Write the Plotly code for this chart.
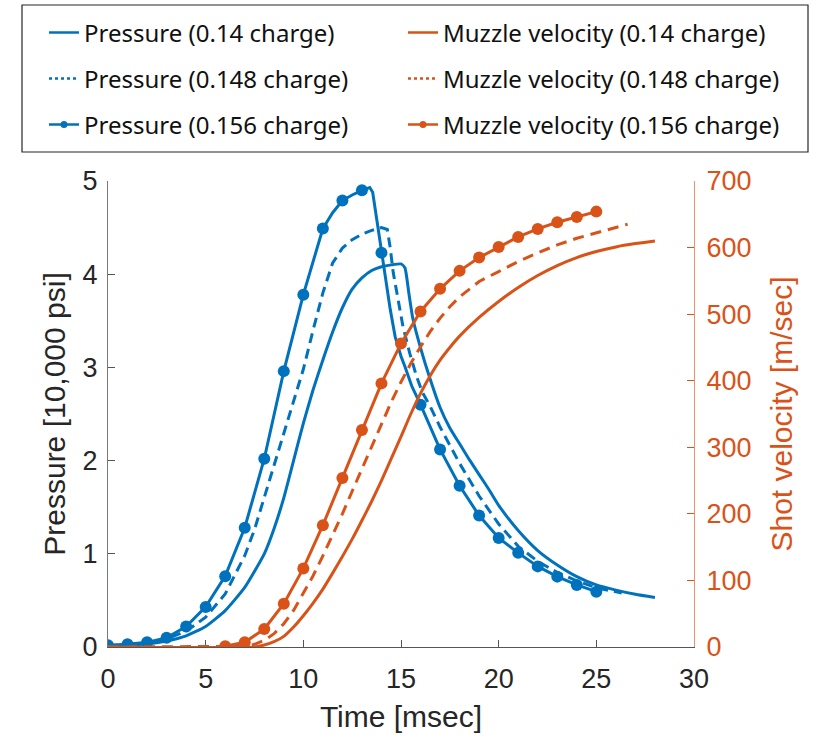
import plotly.graph_objects as go

BLUE = "#0072BD"
ORANGE = "#D95319"
DARK = "#262626"

# ---------------- data ----------------
# Pressure [10,000 psi] vs time [msec]
t_p14 = [0, 1, 2, 3, 4, 5, 6, 7, 8, 8.5, 9, 9.5, 10, 10.5, 11, 11.5, 12, 12.5, 13, 13.5,
         14, 14.5, 15, 15.2, 15.4, 15.6, 16, 16.5, 17, 17.5, 18, 18.5, 19, 19.5, 20,
         21, 22, 23, 24, 25, 26, 27, 28]
p14 = [0.01, 0.02, 0.035, 0.065, 0.12, 0.22, 0.39, 0.64, 1.0, 1.27, 1.60, 2.0, 2.40, 2.76,
       3.08, 3.38, 3.64, 3.84, 3.96, 4.04, 4.08, 4.10, 4.11, 4.07, 3.80, 3.53, 3.21, 2.87,
       2.57, 2.35, 2.18, 2.01, 1.85, 1.69, 1.52, 1.25, 1.035, 0.88, 0.755, 0.666, 0.61,
       0.565, 0.53]

t_p148 = [0, 1, 2, 3, 4, 5, 6, 7, 7.5, 8, 8.5, 9, 9.5, 10, 10.5, 11, 11.5, 12, 12.5, 13,
          13.5, 14, 14.3, 14.45, 14.6, 14.85, 15.1, 15.45, 15.8, 16.1, 16.5, 17, 17.5, 18,
          19, 20, 21, 22, 23, 24, 25, 26, 26.3]
p148 = [0.015, 0.025, 0.045, 0.085, 0.17, 0.32, 0.57, 0.98, 1.26, 1.60, 1.95, 2.30, 2.62,
        2.98, 3.40, 3.80, 4.12, 4.28, 4.37, 4.43, 4.47, 4.50, 4.48, 4.28, 4.02, 3.72, 3.44,
        3.15, 2.90, 2.73, 2.58, 2.36, 2.16, 1.97, 1.62, 1.32, 1.08, 0.92, 0.80, 0.71, 0.635,
        0.59, 0.58]

t_p156 = [0, 1, 2, 3, 4, 5, 6, 7, 8, 9, 10, 11, 11.5, 12, 12.5, 13, 13.4, 13.55, 13.75, 14,
          14.2, 14.45, 14.7, 15, 15.2, 15.55, 16, 16.5, 17, 18, 19, 20, 21, 22, 23, 24, 25]
p156 = [0.02, 0.03, 0.05, 0.10, 0.22, 0.43, 0.76, 1.28, 2.02, 2.96, 3.78, 4.49, 4.66, 4.79,
        4.85, 4.90, 4.93, 4.88, 4.60, 4.23, 3.94, 3.62, 3.33, 3.12, 3.01, 2.80, 2.60, 2.35,
        2.12, 1.73, 1.41, 1.17, 1.01, 0.865, 0.755, 0.666, 0.594]

t_p156_mk = [0, 1, 2, 3, 4, 5, 6, 7, 8, 9, 10, 11, 12, 13, 14,
             16, 17, 18, 19, 20, 21, 22, 23, 24, 25]
p156_mk = [0.02, 0.03, 0.05, 0.10, 0.22, 0.43, 0.76, 1.28, 2.02, 2.96, 3.78, 4.49, 4.79,
           4.90, 4.23, 2.60, 2.12, 1.73, 1.41, 1.17, 1.01, 0.865, 0.755, 0.666, 0.594]

# Shot velocity [m/sec] vs time [msec]
t_v14 = [0, 7.5, 8, 8.5, 9, 9.5, 10, 10.5, 11, 11.5, 12, 12.5, 13, 13.5, 14, 14.5, 15,
         15.5, 16, 16.5, 17, 17.5, 18, 19, 20, 21, 22, 23, 24, 25, 26, 27, 28]
v14 = [0, 0, 3, 8, 16, 30, 47, 66, 87, 111, 136, 162, 190, 219, 250, 283, 316, 350, 381,
       408, 431, 450, 467, 495, 519, 540, 558, 573, 585, 594, 601, 606, 610]

t_v148 = [0, 6.5, 7, 7.5, 8, 8.5, 9, 9.5, 10, 10.5, 11, 11.5, 12, 12.5, 13, 13.5, 14, 14.5,
          15, 15.5, 16, 16.5, 17, 17.5, 18, 18.5, 19, 20, 21, 22, 23, 24, 25, 26, 26.6]
v148 = [0, 0, 1, 4, 10, 20, 35, 55, 80, 107, 137, 168, 200, 234, 268, 302, 336, 368, 398,
        426, 451, 474, 494, 511, 526, 538, 549, 564, 579, 592, 604, 614, 622, 630, 635]

t_v156 = [6, 7, 8, 9, 10, 11, 12, 13, 14, 15, 16, 17, 18, 19, 20, 21, 22, 23, 24, 25]
v156 = [1, 7, 27, 65, 118, 183, 254, 326, 396, 456, 504, 538, 565, 585, 601, 616, 628,
        638, 646, 654]

legend_labels = ["Pressure (0.14 charge)", "Pressure (0.148 charge)", "Pressure (0.156 charge)",
                 "Muzzle velocity (0.14 charge)", "Muzzle velocity (0.148 charge)",
                 "Muzzle velocity (0.156 charge)"]

x_ticks = [0, 5, 10, 15, 20, 25, 30]
y1_ticks = [0, 1, 2, 3, 4, 5]
y2_ticks = [0, 100, 200, 300, 400, 500, 600, 700]

# ---------------- figure ----------------
LW = 3
fig = go.Figure()

fig.add_trace(go.Scatter(x=t_p14, y=p14, mode="lines",
                         line=dict(color=BLUE, width=LW, shape="spline", smoothing=0.5),
                         showlegend=False, yaxis="y"))
fig.add_trace(go.Scatter(x=t_p148, y=p148, mode="lines",
                         line=dict(color=BLUE, width=LW, dash="10px,6px"),
                         showlegend=False, yaxis="y"))
fig.add_trace(go.Scatter(x=t_p156, y=p156, mode="lines", line=dict(color=BLUE, width=LW),
                         showlegend=False, yaxis="y"))
fig.add_trace(go.Scatter(x=t_p156_mk, y=p156_mk, mode="markers",
                         marker=dict(color=BLUE, size=12), showlegend=False, yaxis="y"))

fig.add_trace(go.Scatter(x=t_v14, y=v14, mode="lines",
                         line=dict(color=ORANGE, width=LW, shape="spline", smoothing=0.6),
                         showlegend=False, yaxis="y2"))
fig.add_trace(go.Scatter(x=t_v148, y=v148, mode="lines",
                         line=dict(color=ORANGE, width=LW, dash="11px,7px"),
                         showlegend=False, yaxis="y2"))
fig.add_trace(go.Scatter(x=t_v156, y=v156, mode="lines+markers",
                         line=dict(color=ORANGE, width=LW),
                         marker=dict(color=ORANGE, size=12), showlegend=False, yaxis="y2"))

# legend entries (one legend per entry so rows/columns match the boxed legend)
W, H = 820, 741
L, R, T, B = 108, 126, 181, 94
pw, ph = W - L - R, H - T - B


def px_x(px):
    return (px - L) / pw


def px_y(py):
    return (H - B - py) / ph


styles = [
    dict(color=BLUE, dash="solid", marker=False),
    dict(color=BLUE, dash="dot", marker=False),
    dict(color=BLUE, dash="solid", marker=True),
    dict(color=ORANGE, dash="solid", marker=False),
    dict(color=ORANGE, dash="dot", marker=False),
    dict(color=ORANGE, dash="solid", marker=True),
]
legend_names = ["legend", "legend2", "legend3", "legend4", "legend5", "legend6"]
col_x = [44, 403]
row_y = [33, 79, 125]
layout_legends = {}
for i, (lab, st) in enumerate(zip(legend_labels, styles)):
    col, row = divmod(i, 3)
    fig.add_trace(go.Scatter(
        x=[None], y=[None], name=lab,
        mode="lines+markers" if st["marker"] else "lines",
        line=dict(color=st["color"], width=2.5, dash=st["dash"]),
        marker=dict(color=st["color"], size=7),
        showlegend=True, legend=legend_names[i]))
    layout_legends[legend_names[i]] = dict(
        x=px_x(col_x[col]), y=px_y(row_y[row]), xanchor="left", yanchor="middle",
        bgcolor="rgba(0,0,0,0)", borderwidth=0,
        font=dict(family="Noto Sans", size=24, color="#111111"))

fig.add_shape(type="rect", xref="paper", yref="paper",
              x0=px_x(22), x1=px_x(808), y0=px_y(152), y1=px_y(5),
              line=dict(color=DARK, width=1.2), fillcolor="rgba(0,0,0,0)", layer="above")

tickfont = dict(family="Liberation Sans, Arial", size=27, color=DARK)
titlefont = dict(family="Liberation Sans, Arial", size=30, color=DARK)

fig.update_layout(
    width=W, height=H,
    margin=dict(l=L, r=R, t=T, b=B, autoexpand=False),
    paper_bgcolor="white", plot_bgcolor="white",
    xaxis=dict(range=[0, 30], tickvals=x_ticks, ticks="inside", ticklen=7,
               tickcolor="#555555", showline=True, linecolor="#555555", linewidth=1,
               showgrid=False, zeroline=False, tickfont=tickfont, layer="below traces",
               title=dict(text="Time [msec]", font=titlefont, standoff=12),
               ticklabelstandoff=8),
    yaxis=dict(range=[0, 5], tickvals=y1_ticks, ticks="inside", ticklen=7,
               tickcolor="#555555", showline=True, linecolor="#777777", linewidth=1,
               showgrid=False, zeroline=False, tickfont=tickfont,
               title=dict(text="Pressure [10,000 psi]", font=titlefont, standoff=8),
               ticklabelstandoff=4),
    yaxis2=dict(range=[0, 700], tickvals=y2_ticks, ticks="inside", ticklen=7,
                tickcolor=ORANGE, showline=True, linecolor="#E8926A", linewidth=1,
                showgrid=False, zeroline=False, overlaying="y", side="right",
                tickfont=dict(family="Liberation Sans, Arial", size=27, color=ORANGE),
                title=dict(text="Shot velocity [m/sec]",
                           font=dict(family="Liberation Sans, Arial", size=30, color=ORANGE),
                           standoff=20),
                ticklabelstandoff=6),
    **layout_legends,
)

fig.write_html("out.html")
